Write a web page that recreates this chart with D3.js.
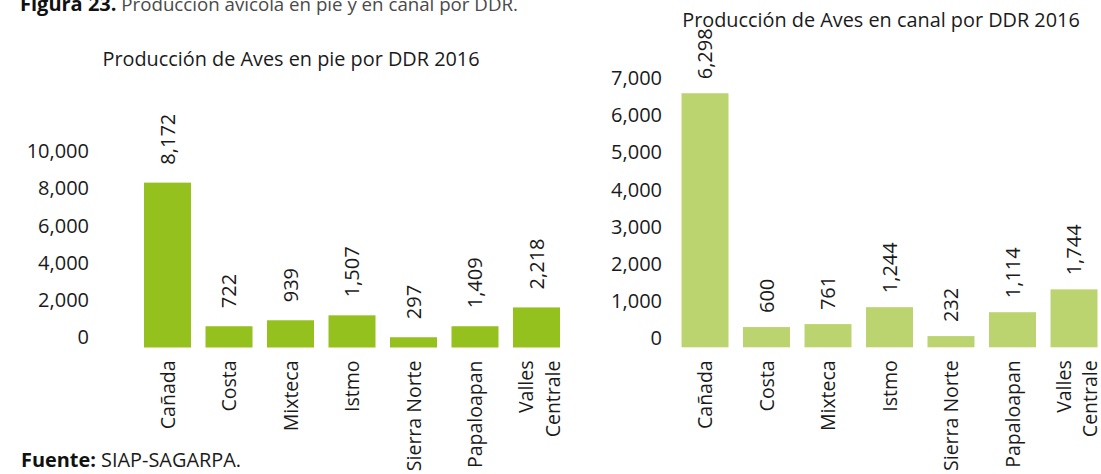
<!DOCTYPE html>
<html>
<head>
<meta charset="utf-8">
<script src="https://cdn.jsdelivr.net/npm/d3@7"></script>
<style>
  body { margin: 0; background: #fff; }
  svg text { font-family: "Open Sans", "Noto Sans", sans-serif; fill: #1a1a1a; }
</style>
</head>
<body>
<div id="chart"></div>
<script>
// categories (DDR) and bar values
const ddr = ["Cañada", "Costa", "Mixteca", "Istmo", "Sierra Norte", "Papaloapan", "Valles Centrale"];
const ddrLines = [["Cañada"], ["Costa"], ["Mixteca"], ["Istmo"], ["Sierra Norte"], ["Papaloapan"], ["Valles", "Centrale"]];

const enPie = [8840, 1140, 1460, 1725, 550, 1140, 2150];
const enPieLabels = ["8,172", "722", "939", "1,507", "297", "1,409", "2,218"];
const enPieTicks = [0, 2000, 4000, 6000, 8000, 10000];

const enCanal = [6840, 545, 625, 1080, 302, 945, 1560];
const enCanalLabels = ["6,298", "600", "761", "1,244", "232", "1,114", "1,744"];
const enCanalTicks = [0, 1000, 2000, 3000, 4000, 5000, 6000, 7000];

const width = 1101, height = 474;
const fmt = d3.format(",");

const svg = d3.select("#chart").append("svg")
  .attr("width", width)
  .attr("height", height);

//header, partly cut off at top
const head = svg.append("text").attr("x", 20).attr("y", 10.5).style("font-size", "20px");
head.append("tspan").attr("font-weight", "bold").style("fill", "#111").text("Figura 23.");
head.append("tspan").style("fill", "#4a4a4a").style("font-size", "18.7px").text(" Producción avícola en pie y en canal por DDR.");

//source note
const src = svg.append("text").attr("x", 21).attr("y", 467).style("font-size", "19.9px");
src.append("tspan").attr("font-weight", "bold").style("fill", "#111").text("Fuente:");
src.append("tspan").text(" SIAP-SAGARPA.");

function drawChart(opt) {
  const x = d3.scaleBand()
    .domain(ddr)
    .range(opt.xRange)
    .paddingInner(0.236)
    .paddingOuter(0.118);

  const y = d3.scaleLinear()
    .domain(opt.yDomain)
    .range(opt.yRange);

  const g = svg.append("g");

  g.append("text")
    .attr("x", opt.titleX)
    .attr("y", opt.titleY)
    .attr("text-anchor", "middle")
    .style("font-size", "19.85px")
    .text(opt.title);

  //y axis, labels only
  const axis = d3.axisLeft(y).tickValues(opt.ticks).tickFormat(fmt).tickSize(0).tickPadding(0);
  const ax = g.append("g")
    .attr("transform", "translate(" + opt.axisX + "," + opt.axisShift + ")")
    .call(axis);
  ax.select(".domain").remove();
  ax.selectAll("text")
    .style("font-size", "20px")
    .style("font-family", '"Open Sans", sans-serif')
    .attr("fill", "#1a1a1a");

  //bars
  g.selectAll(".bar").data(opt.values).enter().append("rect")
    .attr("class", "bar")
    .attr("x", (d, i) => x(ddr[i]))
    .attr("y", (d) => y(d))
    .attr("width", x.bandwidth())
    .attr("height", (d) => y(0) - y(d))
    .attr("fill", opt.color);

  //data labels, rotated
  g.selectAll(".val").data(opt.values).enter().append("text")
    .attr("class", "val")
    .attr("transform", (d, i) => "translate(" + (x(ddr[i]) + x.bandwidth() / 2) + "," + (y(d) - opt.labelGap) + ") rotate(-90)")
    .attr("dy", "0.36em")
    .style("font-size", "20px")
    .text((d, i) => opt.labels[i]);

  //category labels, rotated
  const cats = g.selectAll(".cat").data(ddrLines).enter().append("text")
    .attr("class", "cat")
    .attr("transform", (d, i) => "translate(" + (x(ddr[i]) + x.bandwidth() / 2 + (d.length > 1 ? 3 : 0)) + "," + (y(0) + 13) + ") rotate(-90)")
    .attr("text-anchor", "end")
    .style("font-size", "19.5px");
  cats.selectAll("tspan").data((d) => d.map((t, j) => ({ t: t, j: j, n: d.length }))).enter().append("tspan")
    .attr("x", 0)
    .attr("dy", (d) => d.j === 0 ? (0.36 - (d.n - 1) * 0.67) + "em" : "1.34em")
    .text((d) => d.t);
}

drawChart({
  title: "Producción de Aves en pie por DDR 2016",
  titleX: 291, titleY: 66,
  values: enPie, labels: enPieLabels, ticks: enPieTicks,
  xRange: [136.75, 567.25],
  yDomain: [0, 10000], yRange: [347.5, 161],
  axisX: 89, axisShift: -10,
  labelGap: 18,
  color: "#95c11f"
});

drawChart({
  title: "Producción de Aves en canal por DDR 2016",
  titleX: 881, titleY: 27,
  values: enCanal, labels: enCanalLabels, ticks: enCanalTicks,
  xRange: [674.25, 1104.75],
  yDomain: [0, 7000], yRange: [347.3, 87.3],
  axisX: 662, axisShift: -9,
  labelGap: 14,
  color: "#bbd46f"
});
</script>
</body>
</html>
